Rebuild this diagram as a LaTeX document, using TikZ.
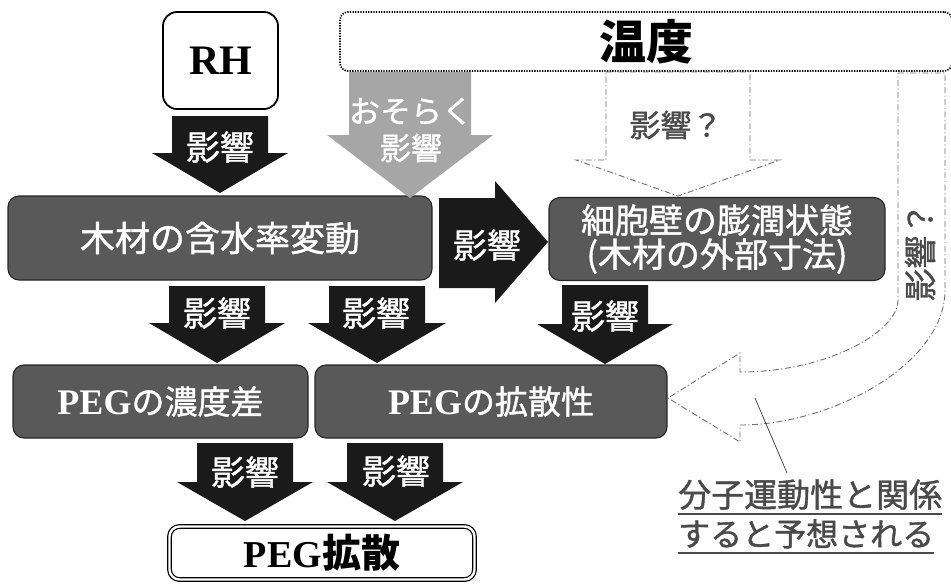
\documentclass[tikz,border=0pt]{standalone}
\usepackage{fontspec}
\setmainfont{Liberation Serif}
\newfontfamily\jpb{Noto Sans CJK JP}
\newfontfamily\jp[FakeBold=1.2]{Noto Sans CJK JP}
\definecolor{boxgray}{HTML}{595959}
\definecolor{arrgray}{HTML}{A6A6A6}
\definecolor{txtgray}{HTML}{4A4A4A}
\definecolor{lngray}{HTML}{707070}
\definecolor{blk}{HTML}{1A1A1A}
% #1 cx, #2 top, #3 head base, #4 tip y, #5 shaft half width, #6 head half width, #7 fill
\newcommand\blkdown[7]{%
  \fill[#7] (#1-#5,#2) -- (#1+#5,#2) -- (#1+#5,#3) -- (#1+#6,#3) -- (#1,#4)
    -- (#1-#6,#3) -- (#1-#5,#3) -- cycle;}
\begin{document}
\begin{tikzpicture}[x=1pt,y=-1pt,
  dbox/.style={draw=black!85, line width=1.1pt, fill=boxgray, rounded corners=11pt,
    inner sep=0pt, text=white},
  wbox/.style={draw=black, line width=1.8pt, fill=white, rounded corners=14pt, inner sep=0pt},
  jbig/.style={font=\jp\fontsize{35}{35}\selectfont},
  albl/.style={text=white, inner sep=0pt, font=\jp\fontsize{34}{34}\selectfont},
  ddash/.style={draw=lngray, line width=0.9pt, dash pattern=on 6pt off 2.5pt on 1.2pt off 2.5pt},
  pegtxt/.style={font=\fontsize{33}{33}\selectfont},
]
\useasboundingbox (0,0) rectangle (951,584);
\clip (0,0) rectangle (951,584);
\fill[white] (0,0) rectangle (951,584);

% --- top boxes
\node[wbox, minimum width=115pt, minimum height=97pt,
  font=\fontsize{42}{42}\selectfont\bfseries] (rh) at (220.5,60.5) {RH};
\node[draw=black, line width=1.6pt, dash pattern=on 1.3pt off 1.3pt, rounded corners=8pt,
  minimum width=612pt, minimum height=59pt, inner sep=0pt,
  font=\jpb\fontsize{47}{47}\selectfont\bfseries] (temp) at (646,41.5) {温度};

% --- main boxes
\node[dbox, jbig, minimum width=424pt, minimum height=84pt] (moku) at (220,238) {木材の含水率変動};
\node[dbox, minimum width=336pt, minimum height=83pt, align=center,
  font=\jp\fontsize{34}{34}\selectfont] (saibo) at (717,239) {細胞壁の膨潤状態\\(木材の外部寸法)};
\node[dbox, pegtxt, minimum width=295pt, minimum height=73pt] (noudo) at (160.5,401.5)
  {{\fontsize{36}{36}\selectfont\bfseries PEG}{\jp の濃度差}};
\node[dbox, pegtxt, minimum width=352pt, minimum height=73pt] (kakusanx) at (491,401.5)
  {{\fontsize{36}{36}\selectfont\bfseries PEG}{\jp の拡散性}};
\node[draw=black, line width=1.2pt, double=white, double distance=2.4pt, fill=white,
  rounded corners=10pt, minimum width=305pt, minimum height=53pt, inner sep=0pt] (kakusan) at (322,553)
  {{\fontsize{38}{38}\selectfont\bfseries PEG}{\jpb\fontsize{39}{39}\selectfont\bfseries 拡散}};

% --- block arrows
\blkdown{220}{116}{153}{193}{48}{68}{blk}
\node[albl] (a1) at (220,147) {影響};
\blkdown{410}{72}{135}{198}{61}{83}{arrgray}
\node[text=white, inner sep=0pt, align=center, font=\jp\fontsize{31}{37}\selectfont] (a2) at (411,130) {おそらく\\影響};
\blkdown{217}{286}{323}{363}{48}{68}{blk}
\node[albl] (a3) at (217,313) {影響};
\blkdown{377}{286}{323}{363}{48}{69}{blk}
\node[albl] (a4) at (376,313) {影響};
\blkdown{605}{285}{324}{364}{43}{68}{blk}
\node[albl] (a5) at (605,316) {影響};
\blkdown{245}{443}{482}{521}{48}{68}{blk}
\node[albl] (a6) at (245,472) {影響};
\blkdown{395}{443}{482}{521}{48}{68}{blk}
\node[albl] (a7) at (396,471) {影響};
\fill[blk] (439,198) -- (495,198) -- (495,181) -- (548,242) -- (495,303) -- (495,288) -- (439,288) -- cycle;
\node[albl] (a8) at (487,245) {影響};

% --- dash-dot arrows from temperature
\draw[ddash] (606,72) -- (750,72) -- (750,160) -- (780,160) -- (678,196) -- (576,160) -- (606,160) -- cycle;
\node[text=txtgray, inner sep=0pt, font=\jp\fontsize{31}{31}\selectfont] (q1) at (676,125) {影響？};
\draw[ddash] (898,73) -- (945,73) -- (945,290)
  .. controls (945,364) and (832,425) .. (740,425)
  -- (740,442) -- (668,398) -- (740,353) -- (740,372)
  .. controls (827,372) and (898,332) .. (898,300) -- cycle;
\node[text=txtgray, inner sep=0pt, rotate=90, font=\jp\fontsize{33}{33}\selectfont] (q2) at (920,252) {影響？};

% --- callout
\node[anchor=base west, inner sep=0pt, text=txtgray, font=\jp\fontsize{33}{33}\selectfont] (cl1) at (678,507) {分子運動性と関係};
\node[anchor=base west, inner sep=0pt, text=txtgray, font=\jp\fontsize{32}{32}\selectfont] (cl2) at (678,546) {すると予想される};
\draw[txtgray, line width=1.6pt] ([yshift=-7pt]cl1.base west) -- ([yshift=-7pt]cl1.base east);
\draw[txtgray, line width=1.6pt] ([yshift=-7pt]cl2.base west) -- ([yshift=-7pt]cl2.base east);
\coordinate (cA) at (755,398);
\coordinate (cB) at (787,473);
\draw[txtgray, line width=0.8pt] (cA) -- (cB);
\end{tikzpicture}
\end{document}
